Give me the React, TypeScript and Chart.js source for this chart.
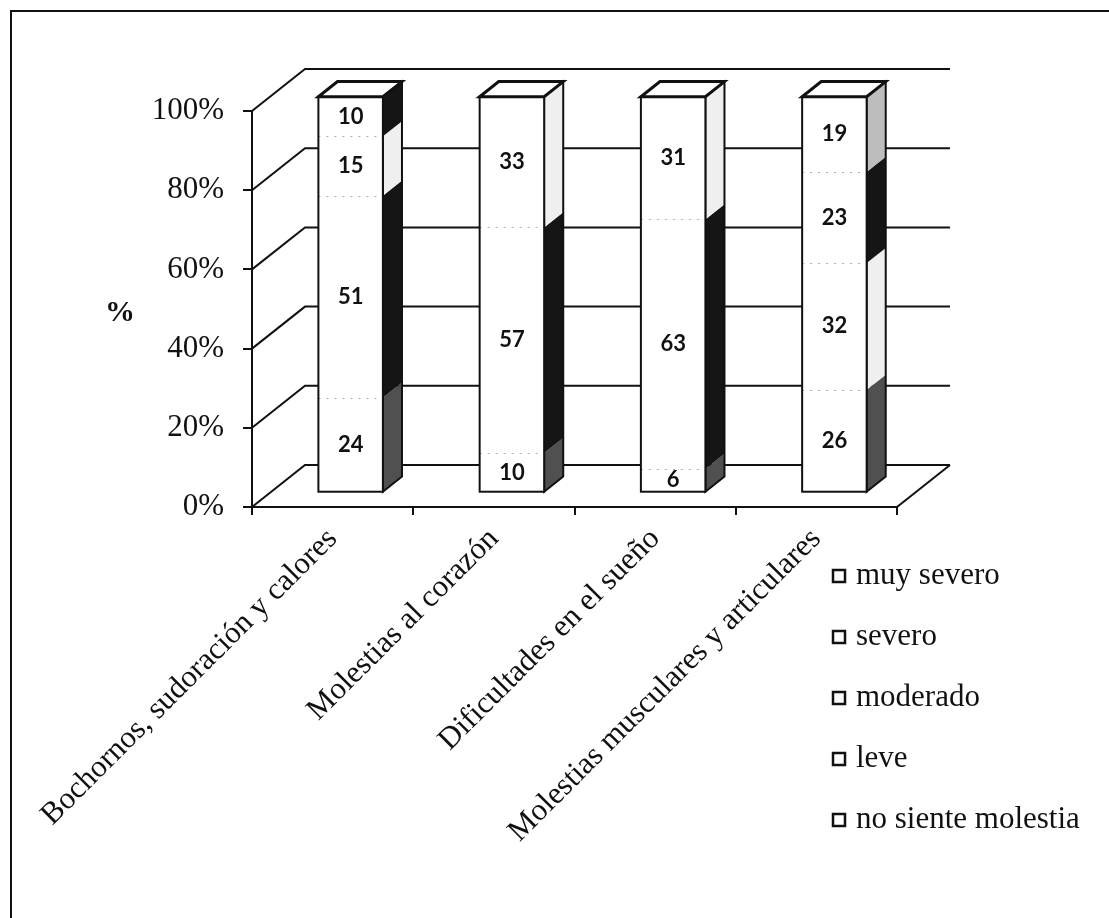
import React, { useEffect, useRef } from 'react';
import { Chart, registerables } from 'chart.js';

Chart.register(...registerables);

// ---- data ----
const categories = [
  'Bochornos, sudoración y calores',
  'Molestias al corazón',
  'Dificultades en el sueño',
  'Molestias musculares y articulares',
];
const seriesNames = ['no siente molestia', 'leve', 'moderado', 'severo', 'muy severo'];
const noSienteMolestia = [24, 10, 6, 26];
const leve = [51, 57, 63, 0];
const moderado = [15, 33, 31, 32];
const severo = [10, 0, 0, 23];
const muySevero = [0, 0, 0, 19];
const yTickValues = [0, 20, 40, 60, 80, 100];
const sideColors = ['#505050', '#151515', '#efefef', '#151515', '#bdbdbd'];

// ---- style / geometry ----
const W = 1109;
const H = 918;
const DEPTH_X = 53;
const DEPTH_Y = -42;
const BAR_FRONT = 0.34;
const BAR_BACK = 0.7;
const SERIF = '"Liberation Serif", "Times New Roman", serif';
const SANS = 'Lato, "Open Sans", sans-serif';
const INK = '#111';

const threeD = {
  id: 'threeD',
  beforeDraw(chart: any) {
    const { ctx } = chart;
    ctx.save();
    ctx.fillStyle = '#fff';
    ctx.fillRect(0, 0, W, H);
    ctx.strokeStyle = INK;
    ctx.lineWidth = 2;
    ctx.strokeRect(11, 11, W + 40, H + 40);
    ctx.restore();
  },
  beforeDatasetsDraw(chart: any) {
    const { ctx, chartArea } = chart;
    const ys = chart.scales.y;
    const { left, right, bottom } = chartArea;
    ctx.save();
    ctx.strokeStyle = INK;
    ctx.lineWidth = 2;
    yTickValues.forEach((v) => {
      const y = ys.getPixelForValue(v);
      ctx.beginPath();
      ctx.moveTo(left, y);
      ctx.lineTo(left + DEPTH_X, y + DEPTH_Y);
      ctx.lineTo(right + DEPTH_X, y + DEPTH_Y);
      ctx.stroke();
    });
    ctx.beginPath();
    ctx.moveTo(right, bottom);
    ctx.lineTo(right + DEPTH_X, bottom + DEPTH_Y);
    ctx.stroke();
    ctx.restore();
  },
  afterDatasetsDraw(chart: any) {
    const { ctx } = chart;
    const ds = chart.data.datasets;
    const metas = ds.map((_: any, i: number) => chart.getDatasetMeta(i));
    const ox = DEPTH_X * BAR_FRONT;
    const oy = DEPTH_Y * BAR_FRONT;
    const sx = DEPTH_X * (BAR_BACK - BAR_FRONT);
    const sy = DEPTH_Y * (BAR_BACK - BAR_FRONT);
    ctx.save();
    for (let i = 0; i < categories.length; i++) {
      const segs = metas
        .map((m: any, d: number) => ({ el: m.data[i], d, v: ds[d].data[i] }))
        .filter((s: any) => s.v > 0);
      if (!segs.length) continue;
      const e0 = segs[0].el;
      const L = e0.x - e0.width / 2 + ox;
      const R = e0.x + e0.width / 2 + ox;
      const yBase = e0.base + oy;
      const yTop = segs[segs.length - 1].el.y + oy;
      // side faces
      segs.forEach((s: any) => {
        const t = s.el.y + oy;
        const b = s.el.base + oy;
        ctx.beginPath();
        ctx.moveTo(R, t);
        ctx.lineTo(R + sx, t + sy);
        ctx.lineTo(R + sx, b + sy);
        ctx.lineTo(R, b);
        ctx.closePath();
        ctx.fillStyle = sideColors[s.d];
        ctx.fill();
      });
      ctx.strokeStyle = INK;
      ctx.lineWidth = 2;
      ctx.beginPath();
      ctx.moveTo(R, yTop);
      ctx.lineTo(R + sx, yTop + sy);
      ctx.lineTo(R + sx, yBase + sy);
      ctx.lineTo(R, yBase);
      ctx.closePath();
      ctx.stroke();
      // front face
      ctx.fillStyle = '#fff';
      ctx.fillRect(L, yTop, R - L, yBase - yTop);
      ctx.save();
      ctx.strokeStyle = '#b0b0b0';
      ctx.lineWidth = 1;
      ctx.setLineDash([2, 6]);
      segs.slice(1).forEach((s: any) => {
        const b = Math.round(s.el.base + oy) + 0.5;
        ctx.beginPath();
        ctx.moveTo(L, b);
        ctx.lineTo(R, b);
        ctx.stroke();
      });
      ctx.restore();
      ctx.strokeRect(L, yTop, R - L, yBase - yTop);
      // top face
      ctx.beginPath();
      ctx.moveTo(L, yTop);
      ctx.lineTo(L + sx, yTop + sy);
      ctx.lineTo(R + sx, yTop + sy);
      ctx.lineTo(R, yTop);
      ctx.closePath();
      ctx.fillStyle = '#fff';
      ctx.fill();
      ctx.lineWidth = 3;
      ctx.stroke();
      ctx.lineWidth = 2;
      // labels
      ctx.fillStyle = INK;
      ctx.font = `bold 22px ${SANS}`;
      ctx.textAlign = 'center';
      ctx.textBaseline = 'middle';
      segs.forEach((s: any) => {
        const t = s.el.y + oy;
        const b = s.el.base + oy;
        ctx.fillText(String(s.v), (L + R) / 2, (t + b) / 2);
      });
    }
    ctx.restore();
  },
  afterDraw(chart: any) {
    const { ctx } = chart;
    const ds = chart.data.datasets;
    ctx.save();
    // axis title
    ctx.fillStyle = INK;
    ctx.font = `bold 30px ${SERIF}`;
    ctx.textAlign = 'center';
    ctx.textBaseline = 'middle';
    ctx.fillText('%', 120, 313);
    // legend
    ctx.font = `31px ${SERIF}`;
    ctx.textAlign = 'left';
    let row = 0;
    for (let d = ds.length - 1; d >= 0; d--) {
      const y = 576 + row * 61;
      ctx.fillStyle = '#fff';
      ctx.fillRect(833, y - 6, 12, 12);
      ctx.strokeStyle = INK;
      ctx.lineWidth = 2.5;
      ctx.strokeRect(833, y - 6, 12, 12);
      ctx.fillStyle = INK;
      ctx.fillText(ds[d].label, 856, y);
      row++;
    }
    ctx.restore();
  },
};

export default function App() {
  const ref = useRef<HTMLCanvasElement>(null);
  useEffect(() => {
    document.body.style.margin = '0';
    const series = [noSienteMolestia, leve, moderado, severo, muySevero];
    const chart = new Chart(ref.current!, {
      type: 'bar',
      data: {
        labels: categories,
        datasets: series.map((data, i) => ({
          label: seriesNames[i],
          data,
          backgroundColor: 'rgba(0,0,0,0)',
          borderWidth: 0,
          barPercentage: 0.4,
          categoryPercentage: 1,
        })),
      },
      options: {
        responsive: false,
        animation: false,
        devicePixelRatio: 1,
        layout: { padding: { left: 0, top: 111, right: 212, bottom: 0 } },
        plugins: { legend: { display: false }, tooltip: { enabled: false } },
        scales: {
          x: {
            stacked: true,
            afterFit: (s: any) => { s.height = H - 507; },
            grid: { display: true, drawOnChartArea: false, offset: true, color: INK, lineWidth: 2, tickLength: 8 },
            border: { display: true, color: INK, width: 2 },
            ticks: {
              autoSkip: false,
              maxRotation: 45,
              minRotation: 45,
              padding: 6,
              color: INK,
              font: { family: SERIF, size: 31 },
            },
          },
          y: {
            stacked: true,
            min: 0,
            max: 100,
            afterFit: (s: any) => { s.width = 252; },
            afterBuildTicks: (s: any) => { s.ticks = yTickValues.map((v) => ({ value: v })); },
            grid: { display: true, drawOnChartArea: false, color: INK, lineWidth: 2, tickLength: 9 },
            border: { display: true, color: INK, width: 2 },
            ticks: {
              padding: 19,
              color: INK,
              font: { family: SERIF, size: 31 },
              callback: (v: any) => `${v}%`,
            },
          },
        },
      },
      plugins: [threeD],
    });
    return () => chart.destroy();
  }, []);
  return <canvas ref={ref} width={W} height={H} style={{ display: 'block' }} />;
}
